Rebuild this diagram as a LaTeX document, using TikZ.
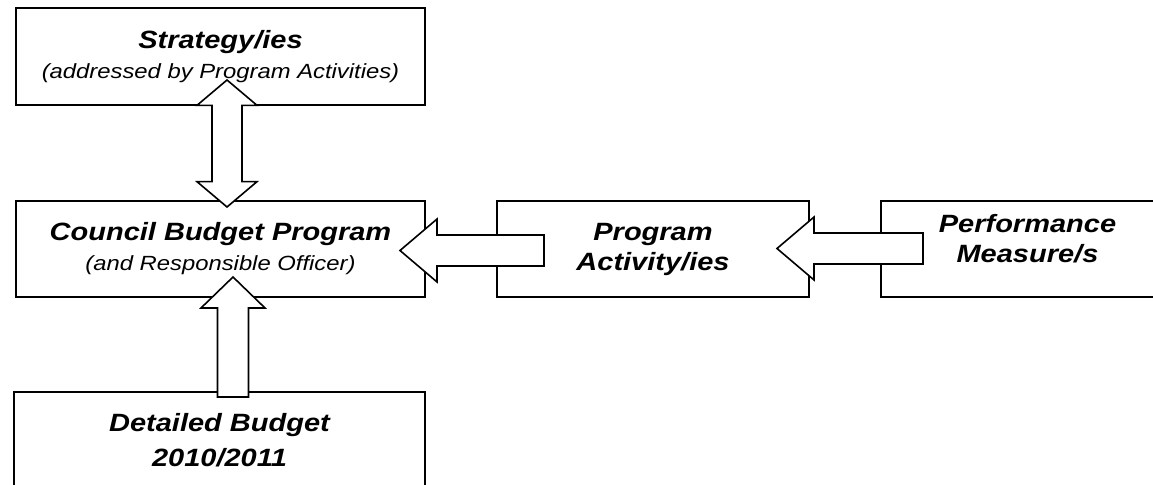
\documentclass[tikz,border=0pt]{standalone}
\usepackage{fontspec}
\setmainfont{Liberation Sans}[FakeStretch=1.16]
\usetikzlibrary{calc}

\newcommand{\boxtitle}{\fontsize{18.75}{22.5}\selectfont\bfseries\itshape}
\newcommand{\boxnote}{\fontsize{15.4}{22.5}\selectfont\mdseries\itshape}

\tikzset{
  budgetbox/.style={draw, line width=1.5pt, fill=white, outer sep=0pt, inner sep=0pt,
    align=center, font=\boxtitle, minimum height=72pt},
  blockarrow/.style={draw, fill=white, line width=1.2pt, line join=miter},
  % horizontal block arrow, tail -> tip pointing left
  leftblock/.style={to path={let \p1=(\tikztostart), \p2=(\tikztotarget) in
    (\x1,\y1+11.6pt) -- (\x2+#1,\y1+11.6pt) -- (\x2+#1,\y1+23.6pt) -- (\x2,\y1)
    -- (\x2+#1,\y1-23.6pt) -- (\x2+#1,\y1-11.6pt) -- (\x1,\y1-11.6pt) -- cycle}},
  % vertical block arrow, tail -> tip pointing up
  upblock/.style={to path={let \p1=(\tikztostart), \p2=(\tikztotarget) in
    (\x1-11.6pt,\y1) -- (\x1-11.6pt,\y2-#1) -- (\x1-24pt,\y2-#1) -- (\x1,\y2)
    -- (\x1+24pt,\y2-#1) -- (\x1+11.6pt,\y2-#1) -- (\x1+11.6pt,\y1) -- cycle}},
  % vertical block arrow with two heads
  updownblock/.style={to path={let \p1=(\tikztostart), \p2=(\tikztotarget) in
    (\x1,\y1) -- (\x1-22.5pt,\y1+#1) -- (\x1-11.25pt,\y1+#1) -- (\x1-11.25pt,\y2-#1)
    -- (\x1-22.5pt,\y2-#1) -- (\x1,\y2) -- (\x1+22.5pt,\y2-#1) -- (\x1+11.25pt,\y2-#1)
    -- (\x1+11.25pt,\y1+#1) -- (\x1+22.5pt,\y1+#1) -- cycle}}
}

\begin{document}
\begin{tikzpicture}[x=0.75pt, y=-0.75pt]
        \useasboundingbox (0,0) rectangle (1153,485);
        \fill[white] (0,0) rectangle (1153,485);
        % boxes
        \node[budgetbox, minimum width=306.75pt, minimum height=72.75pt] (strat) at (220.5,56.5)
            {{\boxtitle Strategy/ies}\\{\boxnote (addressed by Program Activities)}};
        \node[budgetbox, minimum width=306.75pt] (council) at (220.5,249)
            {{\boxtitle Council Budget Program}\\{\boxnote (and Responsible Officer)}};
        \node[budgetbox, minimum width=234pt] (prog) at (653,249) {Program\\Activity/ies};
        \node[budgetbox, minimum width=219.75pt, text depth=16.5pt] (perf) at (1027.5,249)
            {Performance\\Measure/s};
        \node[budgetbox, minimum width=308.25pt, font=\fontsize{18.75}{26.25}\selectfont\bfseries\itshape]
            (budget) at (219.5,440) {Detailed Budget\\2010/2011};
        % block arrows
        \draw[blockarrow] ($(council.north)+(6.5,6)$) to[updownblock=19pt] ($(strat.south)+(6.5,-25)$);
        \draw[blockarrow] ($(budget.north)+(13.5,5)$) to[upblock=23.25pt] ($(council.south)+(12.5,-20)$);
        \draw[blockarrow] ($(prog.west)+(47,1.5)$) to[leftblock=27.75pt] ($(council.east)+(-25,1.5)$);
        \draw[blockarrow] ($(perf.west)+(42,-0.5)$) to[leftblock=27.75pt] ($(prog.east)+(-32,-0.5)$);
\end{tikzpicture}
\end{document}
